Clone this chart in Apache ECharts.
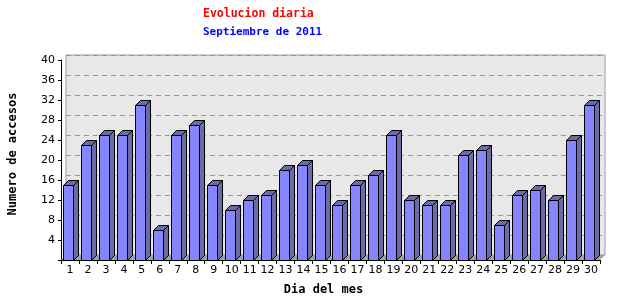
<!DOCTYPE html>
<html>
<head>
<meta charset="utf-8">
<script src="https://cdn.jsdelivr.net/npm/echarts@6/dist/echarts.min.js"></script>
<style>html,body{margin:0;padding:0;background:#fff}#c{width:640px;height:300px}</style>
</head>
<body>
<div id="c"></div>
<script>
const titleText = 'Evolucion diaria';
const subtitleText = 'Septiembre de 2011';
const xName = 'Dia del mes';
const yName = 'Numero de accesos';
const days = ['1','2','3','4','5','6','7','8','9','10','11','12','13','14','15','16','17','18','19','20','21','22','23','24','25','26','27','28','29','30'];
const visits = [15,23,25,25,31,6,25,27,15,10,12,13,18,19,15,11,15,17,25,12,11,11,21,22,7,13,14,12,24,31];
const yMin = 0, yMax = 40, yStep = 4;

const DEPTH = 5;
const chart = echarts.init(document.getElementById('c'), null, {renderer: 'canvas'});

function renderBar(params, api) {
  const i = api.value(0), v = api.value(1);
  const top = api.coord([i, v]);
  const base = api.coord([i, 0]);
  const bw = api.size([1, 0])[0];
  const x0 = Math.round(base[0] - bw * 0.39) + 0.5;
  const x1 = x0 + Math.round(bw * 0.56);
  const yt = Math.round(top[1]) + 0.5;
  const yb = Math.round(base[1]) + 0.5;
  const d = DEPTH;
  const stroke = {stroke: '#000', lineWidth: 1};
  return {
    type: 'group',
    children: [
      {type: 'polygon', shape: {points: [[x1, yt], [x1 + d, yt - d], [x1 + d, yb - d], [x1, yb]]}, style: Object.assign({fill: '#6b6ba8'}, stroke)},
      {type: 'polygon', shape: {points: [[x0, yt], [x0 + d, yt - d], [x1 + d, yt - d], [x1, yt]]}, style: Object.assign({fill: '#6b6ba8'}, stroke)},
      {type: 'rect', shape: {x: x0, y: yt, width: x1 - x0, height: yb - yt}, style: Object.assign({fill: '#8585ff'}, stroke)}
    ]
  };
}

function renderFloor(params, api) {
  const cs = params.coordSys;
  const d = DEPTH;
  const yb = cs.y + cs.height;
  return {
    type: 'polygon',
    shape: {points: [[cs.x, yb], [cs.x + cs.width, yb], [cs.x + cs.width + d, yb - d], [cs.x + d, yb - d]]},
    style: {fill: '#a0a0a0', stroke: null}
  };
}

const labelFont = {fontFamily: 'DejaVu Sans', fontSize: 11, color: '#000'};

chart.setOption({
  animation: false,
  backgroundColor: '#fff',
  title: [
    {text: titleText, left: 203, top: 8, padding: 0,
     textStyle: {color: '#ff0000', fontFamily: 'DejaVu Sans Mono', fontWeight: 'bold', fontSize: 11.5}},
    {text: subtitleText, left: 203, top: 27, padding: 0,
     textStyle: {color: '#0000ff', fontFamily: 'DejaVu Sans Mono', fontWeight: 'bold', fontSize: 11}}
  ],
  grid: [
    {left: 61 + DEPTH, right: 40 - DEPTH, top: 60 - DEPTH, bottom: 40 + DEPTH,
     outerBoundsMode: 'none', containLabel: false,
     show: true, backgroundColor: '#e8e8e8', borderColor: '#999', borderWidth: 1},
    {left: 61, right: 40, top: 60, bottom: 40, outerBoundsMode: 'none', containLabel: false}
  ],
  xAxis: [
    {gridIndex: 0, type: 'value', min: 0, max: 1, show: false},
    {gridIndex: 1, type: 'category', data: days, boundaryGap: true,
     name: xName, nameLocation: 'middle', nameGap: 24,
     nameTextStyle: {fontFamily: 'DejaVu Sans Mono', fontWeight: 'bold', fontSize: 12, color: '#000', padding: [0, 14, 0, 0]},
     axisLine: {lineStyle: {color: '#000'}},
     axisTick: {show: true, length: 4, lineStyle: {color: '#000'}},
     axisLabel: Object.assign({margin: 5, interval: 0}, labelFont),
     splitLine: {show: false}}
  ],
  yAxis: [
    {gridIndex: 0, type: 'value', min: yMin, max: yMax, interval: yStep,
     axisLine: {show: false}, axisTick: {show: false}, axisLabel: {show: false},
     splitLine: {show: true, lineStyle: {color: '#999', type: [5, 4], width: 1}}},
    {gridIndex: 1, type: 'value', min: yMin, max: yMax, interval: yStep,
     name: yName, nameLocation: 'middle', nameGap: 42, nameRotate: 90,
     nameTextStyle: {fontFamily: 'DejaVu Sans Mono', fontWeight: 'bold', fontSize: 12, color: '#000', padding: [0, 0, 0, 12]},
     axisLine: {show: true, lineStyle: {color: '#000'}},
     axisTick: {show: true, length: 3, lineStyle: {color: '#000'}},
     axisLabel: Object.assign({margin: 6, formatter: v => v === 0 ? '' : String(v)}, labelFont),
     splitLine: {show: false}}
  ],
  series: [
    {type: 'custom', xAxisIndex: 1, yAxisIndex: 1, z: 1, renderItem: renderFloor, data: [[0, 0]], silent: true},
    {type: 'custom', xAxisIndex: 1, yAxisIndex: 1, z: 2, renderItem: renderBar,
     data: visits.map((v, i) => [i, v])}
  ]
});
</script>
</body>
</html>
